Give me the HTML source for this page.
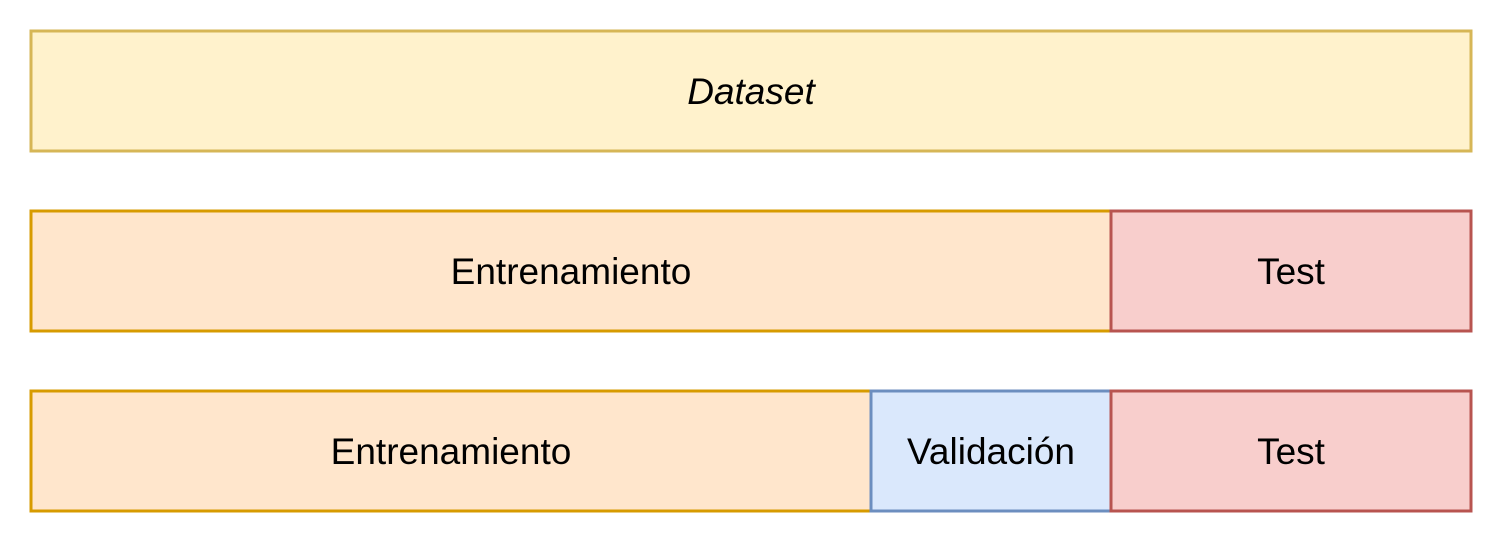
<!DOCTYPE html>
<html><head><meta charset="utf-8"><style>html,body{margin:0;padding:0;background:#fff}</style></head>
<body>
<svg width="1506" height="546" xmlns="http://www.w3.org/2000/svg" font-family="Liberation Sans, sans-serif" font-size="37">
<rect x="31" y="31" width="1440" height="120" fill="#fff2cc" stroke="#d6b656" stroke-width="3"/>
<text x="751" y="104" text-anchor="middle" font-style="italic">Dataset</text>
<rect x="31" y="211" width="1080" height="120" fill="#ffe6cc" stroke="#d79b00" stroke-width="3"/>
<rect x="1111" y="211" width="360" height="120" fill="#f8cecc" stroke="#b85450" stroke-width="3"/>
<text x="571" y="284" text-anchor="middle">Entrenamiento</text>
<text x="1291" y="284" text-anchor="middle">Test</text>
<rect x="31" y="391" width="840" height="120" fill="#ffe6cc" stroke="#d79b00" stroke-width="3"/>
<rect x="871" y="391" width="240" height="120" fill="#dae8fc" stroke="#6c8ebf" stroke-width="3"/>
<rect x="1111" y="391" width="360" height="120" fill="#f8cecc" stroke="#b85450" stroke-width="3"/>
<text x="451" y="464" text-anchor="middle">Entrenamiento</text>
<text x="991" y="464" text-anchor="middle">Validación</text>
<text x="1291" y="464" text-anchor="middle">Test</text>
</svg>
</body></html>
